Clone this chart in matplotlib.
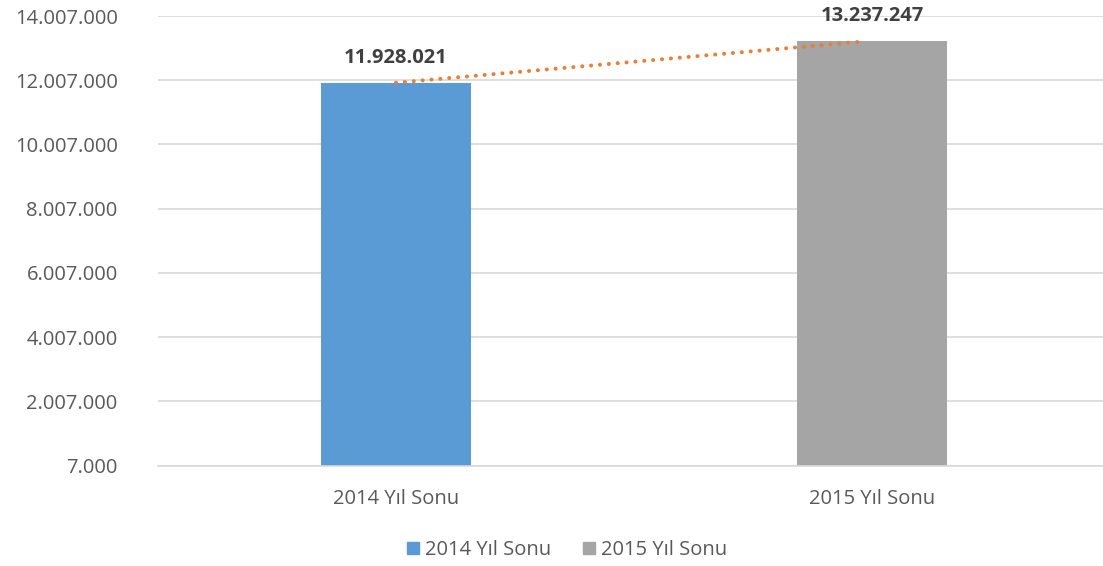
import matplotlib
matplotlib.use("Agg")
import matplotlib.pyplot as plt
from matplotlib.patches import Patch

categories = ["2014 Yıl Sonu", "2015 Yıl Sonu"]
values = [11928021, 13237247]
colors = ["#5B9BD5", "#A5A5A5"]
yticks = [7000 + 2000000 * i for i in range(8)]

plt.rcParams['font.family'] = ['Open Sans', 'DejaVu Sans']

fig = plt.figure(figsize=(11.03, 5.66), dpi=100)
W, H = 1103, 566
ax = fig.add_axes([158 / W, 1 - 465.5 / H, (1103 - 158) / W, (465.5 - 16) / H])

x = [0, 1]
ax.bar(x, values, width=0.315, color=colors, zorder=2)
ax.plot([0, 0.987], [values[0], values[0] + 0.987 * (values[1] - values[0])],
        color="#ED7D31", linestyle=(0, (0.01, 2.2)), linewidth=2.9,
        dash_capstyle="round", zorder=3)

for xi, v in zip(x, values):
    ax.annotate(f"{v:,}".replace(",", "."), (xi, v), xytext=(0, 10.5),
                textcoords="offset points", ha="center", va="bottom",
                fontsize=14.5, fontweight="bold", color="#404040")

ax.set_xlim(-0.5, (1103 - 396) / 476)
ax.set_ylim(7000, 14007000)
ax.set_yticks(yticks)
ax.set_yticklabels([f"{t:,}".replace(",", ".") for t in yticks])
ax.set_xticks(x)
ax.set_xticklabels(categories)
ax.tick_params(axis="both", length=0, labelsize=14.5, colors="#595959")
ax.tick_params(axis="y", pad=29)
ax.tick_params(axis="x", pad=17)
ax.grid(axis="y", color="#D9D9D9", linewidth=1.2, zorder=0)
for s in ["top", "right", "left"]:
    ax.spines[s].set_visible(False)
ax.spines["bottom"].set_color("#D9D9D9")
ax.spines["bottom"].set_linewidth(1.2)

handles = [Patch(color=c, label=l) for c, l in zip(colors, categories)]
leg = fig.legend(handles=handles, loc="center", bbox_to_anchor=(567 / W, 1 - 550 / H),
                 ncol=2, frameon=False, fontsize=14.5, handlelength=0.6, handleheight=0.6,
                 handletextpad=0.3, columnspacing=1.6)
for t in leg.get_texts():
    t.set_color("#595959")

fig.savefig("out.png", dpi=100)
